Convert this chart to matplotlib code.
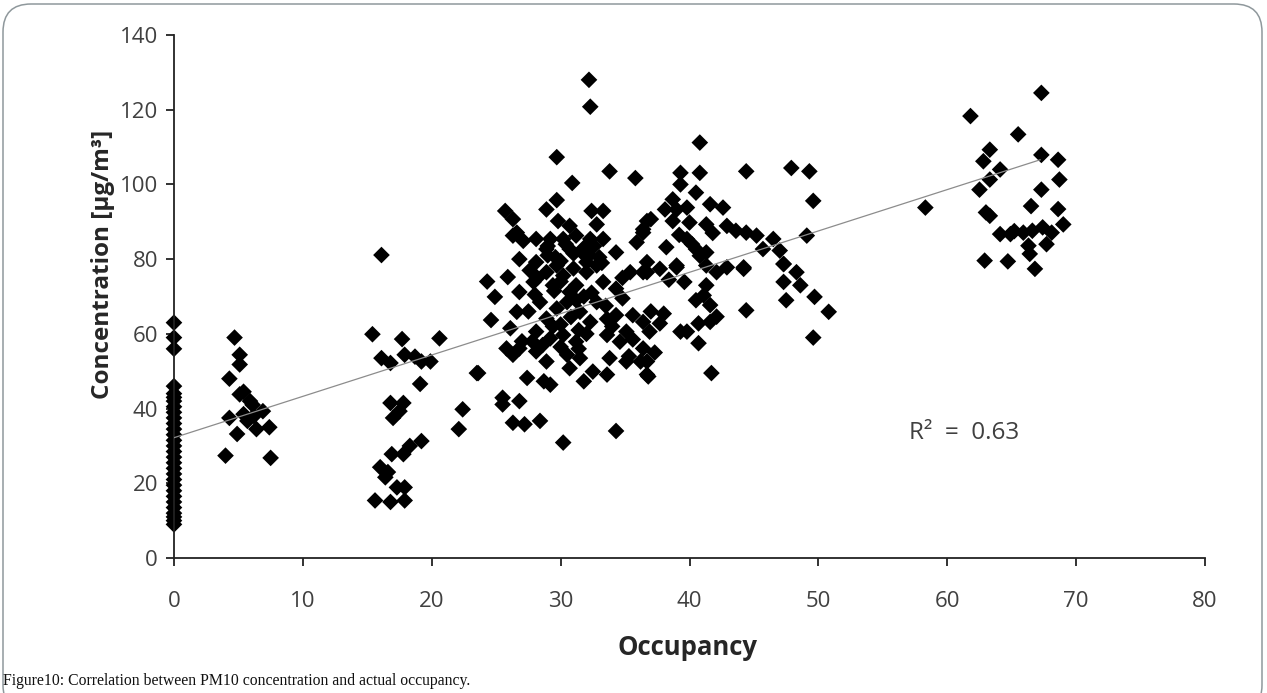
import numpy as np
import matplotlib.pyplot as plt
from matplotlib.patches import FancyBboxPatch
from matplotlib.transforms import IdentityTransform

# occupancy = 0 column
x_zero = [0] * 30
y_zero = [63, 59, 56, 46, 42, 40.5, 39, 37.5, 36, 34.5, 33, 31.5, 30, 28.5, 27,
          25.5, 24, 22.5, 21, 19.5, 18, 16.5, 15, 13.5, 12, 11, 10, 9, 44, 43]

# small group around 4-8
x_low = [4.7, 5.1, 5.1, 4.3, 5.1, 5.9, 6.9, 4.3, 5.7, 4.9, 6.4, 7.4, 4.0, 7.5, 5.4, 6.1, 5.4, 6.2]
y_low = [59, 54.4, 51.8, 48, 43.8, 42, 39.3, 37.5, 36.7, 33.2, 34.5, 35, 27.4, 26.8, 38.5, 41, 44.5, 38]

# group around 15-24
x_mid = [16.1, 15.4, 17.7, 20.6, 16.1, 16.8, 17.9, 18.7, 19.2, 19.9, 19.1, 23.5,
         16.8, 17.8, 17.0, 17.5, 22.4, 22.1, 19.2, 18.3, 17.8, 16.9, 16.0, 16.4,
         17.3, 17.9, 15.6, 16.8, 17.9, 16.6]
y_mid = [81.1, 59.9, 58.6, 58.8, 53.5, 52.2, 54.4, 53.9, 52.6, 52.6, 46.6, 49.5,
         41.5, 41.5, 37.5, 39.3, 39.8, 34.5, 31.3, 30.0, 27.8, 27.8, 24.3, 21.6,
         18.9, 18.9, 15.4, 15.0, 15.4, 23.0]

# main cloud 24-52
x_main = [32.2, 32.3, 29.7, 33.8, 35.8, 30.9, 29.7, 28.9, 25.7, 26.3, 32.4, 33.3,
          32.8, 29.8, 30.7, 26.6, 27.1, 28.1, 29.2, 30.2, 31.2, 32.3, 33.3, 26.8,
          28.9, 30.7, 34.3, 35.9, 36.4, 36.7, 28.1, 29.7, 32.0,
          24.3, 25.9, 24.9, 24.6, 26.1, 26.8, 26.6, 27.9, 28.4, 28.9, 29.4, 30.2,
          30.7, 31.2, 32.0, 32.8, 33.3, 34.3, 35.4, 36.4, 34.3, 35.6, 36.4, 35.1,
          34.6, 33.6, 28.9, 29.7, 30.5, 31.5, 32.3, 32.8, 28.1, 29.2, 30.2, 31.2,
          25.8, 26.8, 26.3, 28.1, 28.9, 30.5, 31.5, 30.7, 32.5, 31.8, 33.6, 33.8,
          35.1, 36.2, 36.7, 27.4, 28.7, 29.2, 23.6, 25.5, 26.8, 25.5, 26.3, 27.2,
          28.4, 30.2, 34.3, 26.3, 27.6, 29.0, 30.0, 31.0, 31.8, 33.0, 27.5, 30.0,
          31.4, 33.5, 34.8, 27.8, 29.5, 31.8, 34.0,
          29.0, 30.4, 31.6, 32.6, 28.2, 29.6, 31.0, 32.2, 33.2, 30.0, 31.2, 32.4,
          29.4, 30.8, 32.0, 33.6, 28.6, 30.0, 31.4, 27.0, 28.0, 34.8, 35.6,
          40.8, 39.3, 40.8, 44.4, 47.9, 49.3, 39.3, 40.5, 49.6, 38.7, 38.1, 39.0,
          39.8, 41.6, 42.6, 37.0, 38.7, 40.0, 41.3, 36.4, 42.9, 43.6, 44.4, 45.2,
          46.5, 49.1, 39.8, 38.2, 40.5, 41.3, 45.7, 47.0, 47.3, 44.2, 36.7, 39.0,
          36.7, 37.7, 39.0, 40.8, 41.3, 42.1, 42.9, 44.2, 39.6, 41.3, 41.1, 40.5,
          41.6, 47.3, 48.3, 47.3, 48.6, 47.5, 49.7, 50.8, 49.6, 44.4, 42.1, 40.7,
          41.6, 38.0, 37.7, 36.9, 39.3, 39.8, 40.7, 36.4, 36.7, 36.8, 41.7, 37.3,
          38.4, 35.3, 37.0, 39.2, 40.2, 41.8]
y_main = [128, 120.8, 107.3, 103.5, 101.7, 100.4, 95.8, 93.3, 92.9, 90.7, 92.9, 92.9,
          89.3, 90.2, 88.9, 87.1, 84.9, 85.4, 85.4, 85.4, 86.3, 85.4, 85.4, 80.0,
          82.7, 82.7, 81.8, 84.5, 87.1, 90.2, 79.2, 78.3, 79.2,
          74, 75.2, 69.9, 63.7, 61.5, 71.2, 65.9, 73.9, 68.5, 76.5, 73, 75.6,
          71.2, 73, 76.5, 78.3, 73.9, 72.1, 76.5, 76.5, 65, 65, 63.2, 60.6,
          57.9, 59.7, 64.1, 66.8, 68.5, 65.9, 63.2, 68.5, 60.6, 58.8, 59.7, 57.9,
          56.1, 56.1, 54.4, 55.3, 52.6, 54.4, 53.5, 50.8, 49.9, 47.3, 49.1, 53.5,
          52.6, 52.6, 49.1, 48.2, 47.3, 46.4, 49.5, 42.9, 42.0, 41.1, 36.2, 35.8,
          36.7, 30.9, 34.0, 86.3, 77.0, 81.0, 79.5, 81.5, 83.0, 80.5, 66.0, 62.5,
          61.0, 67.5, 69.5, 58.0, 71.5, 70.0, 62.0,
          83.5, 84.0, 82.0, 83.5, 75.0, 80.5, 77.5, 81.0, 79.0, 74.0, 69.0, 71.0,
          62.0, 64.5, 60.0, 64.0, 57.0, 56.5, 56.0, 58.0, 70.5, 75.0, 58.5,
          111.2, 103.1, 103.1, 103.5, 104.4, 103.5, 100, 97.8, 95.6, 96, 93.3, 93.3,
          93.8, 94.7, 93.8, 90.7, 90.2, 89.8, 89.3, 88, 88.9, 87.6, 87.1, 86.3,
          85.4, 86.3, 85.4, 83.2, 82.7, 81.8, 82.7, 82.3, 78.7, 77.8, 79.2, 78.3,
          76.5, 77.4, 77.8, 80.9, 78.3, 76.5, 77.8, 77.4, 73.9, 73, 70.3, 69,
          67.7, 78.7, 76.5, 73.9, 73, 69, 69.9, 65.9, 59, 66.3, 64.6, 62.8,
          63.2, 65.4, 62.8, 60.6, 60.6, 60.6, 57.5, 56.1, 52.6, 48.6, 49.5, 55.0,
          74.5, 54.0, 66.0, 86.5, 84.0, 87.0]

# group around 58-69
x_high = [67.3, 61.8, 65.5, 63.3, 62.8, 67.3, 68.6, 64.1, 63.3, 68.7, 62.5, 67.3,
          66.5, 58.3, 68.6, 63.3, 69.0, 64.1, 64.9, 65.9, 66.6, 67.4, 68.1, 67.7,
          66.3, 66.4, 62.9, 64.7, 66.8, 63.0, 65.2]
y_high = [124.5, 118.3, 113.4, 109.3, 106.2, 107.9, 106.6, 104, 101.3, 101.3, 98.6, 98.6,
          94.2, 93.8, 93.4, 91.6, 89.3, 86.7, 86.7, 87.1, 87.6, 88.5, 87.1, 84,
          83.6, 81.4, 79.6, 79.4, 77.4, 92.5, 87.5]

occ = np.array(x_zero + x_low + x_mid + x_main + x_high, dtype=float)
conc = np.array(y_zero + y_low + y_mid + y_main + y_high, dtype=float)

trend_x = [0, 67.2]
trend_intercept = 32.2
trend_slope = 1.107
r2_text = "R²  =  0.63"

x_ticks = [0, 10, 20, 30, 40, 50, 60, 70, 80]
y_ticks = [0, 20, 40, 60, 80, 100, 120, 140]

plt.rcParams['font.family'] = ['Open Sans', 'DejaVu Sans']
txt = '#404040'

fig = plt.figure(figsize=(12.67, 6.93), dpi=100)
ax = fig.add_axes([0.1373, 0.1948, 0.8138, 0.7547])

trend_y = [trend_intercept + trend_slope * v for v in trend_x]
ax.plot(trend_x, trend_y, color='#8c8c8c', lw=0.9, zorder=3)
ax.scatter(occ, conc, marker='D', s=72, color='black', edgecolors='none',
           zorder=2, clip_on=False)

ax.set_xlim(0, 80)
ax.set_ylim(0, 140)
ax.set_xticks(x_ticks)
ax.set_yticks(y_ticks)
for s in ['top', 'right']:
    ax.spines[s].set_visible(False)
for s in ['left', 'bottom']:
    ax.spines[s].set_linewidth(1.3)
    ax.spines[s].set_color('#222222')
ax.tick_params(axis='x', length=6, width=1.3, color='#222222', pad=18,
               labelsize=16, labelcolor=txt)
ax.tick_params(axis='y', length=6, width=1.3, color='#222222', pad=5.5,
               labelsize=16, labelcolor=txt)

ax.set_xlabel('Occupancy', fontsize=18.5, fontweight='bold', color='#262626')
ax.set_ylabel('Concentration [μg/m³]', fontsize=17.5, fontweight='bold', color='#262626')
ax.xaxis.set_label_coords(0.4985, -0.172)
ax.xaxis.label.set_verticalalignment('center')
ax.yaxis.set_label_coords(-0.069, 0.562)
ax.yaxis.label.set_verticalalignment('center')
ax.text(57.0, 33.5, r2_text, fontsize=17.5, color=txt, va='center', ha='left')

fig.text(0.002, 0.012, 'Figure10: Correlation between PM10 concentration and actual occupancy.',
         family=['Liberation Serif', 'DejaVu Serif'], fontsize=11.3, color='#111111',
         ha='left', va='baseline')

frame = FancyBboxPatch((3, -20), 1259, 709, boxstyle='round,pad=0,rounding_size=28',
                       transform=IdentityTransform(), fill=False, edgecolor='#8f989c', lw=1.1)
fig.add_artist(frame)

fig.savefig('out.png', dpi=100)
